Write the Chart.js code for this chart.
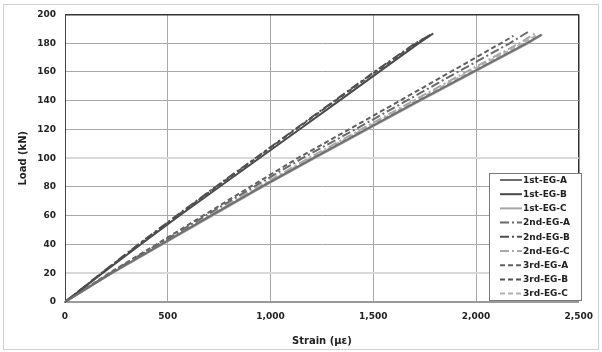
<!DOCTYPE html>
<html>
<head>
<meta charset="utf-8">
<script src="https://cdn.jsdelivr.net/npm/chart.js@4"></script>
<style>
    body { margin: 0; background: #fff; }
    #wrap { position: relative; width: 602px; height: 352px; }
    #frame { position: absolute; left: 3px; top: 4px; width: 594px; height: 344px; border: 1px solid #d0d0d0; pointer-events: none; }
</style>
</head>
<body>
<div id="wrap">
    <canvas id="canvas" width="602" height="352"></canvas>
    <div id="frame"></div>
</div>
<script>
// load steps (kN) shared by every gauge, then the last recorded point of each one
const loadSteps = [0, 20, 40, 60, 80, 100, 120, 140, 160, 180];

const seriesNames = ["1st-EG-A", "1st-EG-B", "1st-EG-C", "2nd-EG-A", "2nd-EG-B", "2nd-EG-C", "3rd-EG-A", "3rd-EG-B", "3rd-EG-C"];

// strain (micro-strain) read at each load step
const strain1stA = [0, 226, 468, 710, 955, 1208, 1465, 1722, 1985, 2248];
const strain1stB = [0, 182, 368, 556, 750, 945, 1140, 1335, 1528, 1722];
const strain1stC = [0, 230, 474, 718, 962, 1215, 1472, 1730, 1992, 2255];
const strain2ndA = [0, 218, 452, 684, 918, 1155, 1412, 1662, 1912, 2165];
const strain2ndB = [0, 176, 356, 542, 732, 926, 1118, 1312, 1505, 1705];
const strain2ndC = [0, 222, 460, 700, 940, 1185, 1440, 1695, 1952, 2212];
const strain3rdA = [0, 214, 444, 672, 900, 1132, 1382, 1630, 1876, 2122];
const strain3rdB = [0, 178, 360, 546, 736, 930, 1122, 1316, 1510, 1710];
const strain3rdC = [0, 224, 464, 706, 948, 1195, 1452, 1708, 1966, 2228];

const endStrain = [2318, 1785, 2322, 2255, 1796, 2290, 2182, 1792, 2300];
const endLoad = [186, 186, 186, 188, 187, 187, 185, 187, 186];

const strainSets = [strain1stA, strain1stB, strain1stC, strain2ndA, strain2ndB, strain2ndC, strain3rdA, strain3rdB, strain3rdC];

const lineColors = ["#6e6e6e", "#4a4a4a", "#a6a6a6", "#6a6a6a", "#505050", "#a8a8a8", "#606060", "#505050", "#b0b0b0"];
const dashPatterns = [[], [], [], [9, 3, 2, 3], [9, 3, 2, 3], [9, 3, 2, 3], [5, 3], [5, 3], [5, 3]];

const FONT = "'DejaVu Sans', Verdana, sans-serif";

const datasets = seriesNames.map((name, i) => {
    const points = strainSets[i].map((s, j) => ({ x: s, y: loadSteps[j] }));
    points.push({ x: endStrain[i], y: endLoad[i] });
    return {
        label: name,
        data: points,
        showLine: true,
        borderColor: lineColors[i],
        borderWidth: 2,
        borderDash: dashPatterns[i],
        pointRadius: 0,
        tension: 0
    };
});

// legend box drawn inside the plot, bottom right
const boxLegend = {
    id: "boxLegend",
    afterDraw(chart) {
        const ctx = chart.ctx;
        const left = 489, top = 173, width = 92, height = 127;
        ctx.save();
        ctx.fillStyle = "#ffffff";
        ctx.fillRect(left, top, width, height);
        ctx.strokeStyle = "#7a7a7a";
        ctx.lineWidth = 1;
        ctx.strokeRect(left + 0.5, top + 0.5, width, height);
        ctx.font = "bold 9px " + FONT;
        ctx.textBaseline = "middle";
        chart.data.datasets.forEach((ds, i) => {
            const y = top + 7 + i * 14.2;
            ctx.strokeStyle = ds.borderColor;
            ctx.lineWidth = 2;
            ctx.setLineDash(ds.borderDash);
            ctx.beginPath();
            ctx.moveTo(500, y);
            ctx.lineTo(522, y);
            ctx.stroke();
            ctx.setLineDash([]);
            ctx.fillStyle = "#222";
            ctx.fillText(ds.label, 523, y + 0.5);
        });
        ctx.restore();
    }
};

new Chart(document.getElementById("canvas"), {
    type: "scatter",
    data: { datasets: datasets },
    plugins: [boxLegend],
    options: {
        responsive: false,
        animation: false,
        layout: { padding: { top: 14, right: 20, left: 0, bottom: 0 } },
        plugins: {
            legend: { display: false },
            tooltip: { enabled: false }
        },
        scales: {
            x: {
                type: "linear",
                min: 0,
                max: 2500,
                afterFit: (scale) => { scale.height = 50; },
                ticks: {
                    stepSize: 500,
                    padding: 9,
                    color: "#222",
                    font: { family: FONT, size: 9, weight: "bold" },
                    callback: (v) => v.toLocaleString("en-US")
                },
                grid: {
                    drawTicks: false,
                    color: (c) => c.tick && c.tick.value === 2500 ? "#333" : "#a8a8a8",
                    lineWidth: (c) => c.tick && c.tick.value === 2500 ? 1.5 : 1
                },
                border: { color: "#9a9a9a", width: 2 },
                title: {
                    display: true,
                    text: "Strain (\u03bc\u03b5)",
                    color: "#222",
                    font: { family: FONT, size: 10, weight: "bold" },
                    padding: { top: 0, bottom: 5 }
                }
            },
            y: {
                min: 0,
                max: 200,
                afterFit: (scale) => { scale.width = 65; },
                ticks: {
                    stepSize: 20,
                    padding: 9,
                    color: "#222",
                    font: { family: FONT, size: 9, weight: "bold" }
                },
                grid: {
                    drawTicks: false,
                    color: (c) => {
                        const v = c.tick ? c.tick.value : null;
                        if (v === 200) return "#333";
                        if (v === 20 || v === 100) return "#d8d8d8";
                        return "#a8a8a8";
                    },
                    lineWidth: (c) => {
                        const v = c.tick ? c.tick.value : null;
                        if (v === 200) return 1.5;
                        if (v === 20 || v === 100) return 2;
                        return 1;
                    }
                },
                border: { color: "#444", width: 1 },
                title: {
                    display: true,
                    text: "Load (kN)",
                    color: "#222",
                    font: { family: FONT, size: 10, weight: "bold" },
                    padding: { top: 17, bottom: 0 }
                }
            }
        }
    }
});
</script>
</body>
</html>
